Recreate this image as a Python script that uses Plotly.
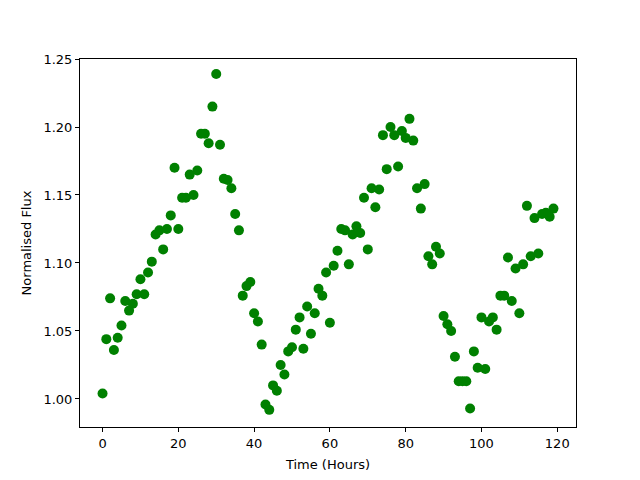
import plotly.graph_objects as go

hours = list(range(120))
flux = [
    1.004, 1.044, 1.074, 1.036, 1.045, 1.054, 1.072, 1.065, 1.070, 1.077,
    1.088, 1.077, 1.093, 1.101, 1.121, 1.124, 1.110, 1.125, 1.135, 1.170,
    1.125, 1.148, 1.148, 1.165, 1.150, 1.168, 1.195, 1.195, 1.188, 1.215,
    1.239, 1.187, 1.162, 1.161, 1.155, 1.136, 1.124, 1.076, 1.083, 1.086,
    1.063, 1.057, 1.040, 0.996, 0.992, 1.010, 1.006, 1.025, 1.018, 1.035,
    1.038, 1.051, 1.060, 1.037, 1.068, 1.048, 1.063, 1.081, 1.076, 1.093,
    1.056, 1.098, 1.109, 1.125, 1.124, 1.099, 1.121, 1.127, 1.122, 1.148,
    1.110, 1.155, 1.141, 1.154, 1.194, 1.169, 1.200, 1.194, 1.171, 1.197,
    1.192, 1.206, 1.190, 1.155, 1.140, 1.158, 1.105, 1.099, 1.112, 1.107,
    1.061, 1.055, 1.050, 1.031, 1.013, 1.013, 1.013, 0.993, 1.035, 1.023,
    1.060, 1.022, 1.057, 1.060, 1.051, 1.076, 1.076, 1.104, 1.072, 1.096,
    1.063, 1.099, 1.142, 1.105, 1.133, 1.107, 1.136, 1.137, 1.134, 1.140,
]

fig = go.Figure(go.Scatter(
    x=hours, y=flux, mode="markers",
    marker=dict(color="#008000", size=10, line=dict(width=0)),
))

axis_common = dict(
    showgrid=False, zeroline=False, showline=True, linecolor="black", linewidth=1,
    mirror=True, ticks="outside", ticklen=4, tickcolor="black", tickwidth=1,
    tickfont=dict(family="DejaVu Sans", size=13, color="black"),
)

fig.update_layout(
    width=640, height=480,
    margin=dict(l=72, r=72, t=51, b=61),
    paper_bgcolor="white", plot_bgcolor="white",
    showlegend=False,
    font=dict(family="DejaVu Sans", size=13, color="black"),
    xaxis=dict(range=[-5.95, 124.95], dtick=20, tick0=0,
               title=dict(text="Time (Hours)", standoff=10,
                          font=dict(family="DejaVu Sans", size=13)),
               **axis_common),
    yaxis=dict(range=[0.9794, 1.2500], dtick=0.05, tick0=1.0, tickformat=".2f",
               title=dict(text="Normalised Flux", standoff=8,
                          font=dict(family="DejaVu Sans", size=13)),
               **axis_common),
)

fig.write_html("out.html")
